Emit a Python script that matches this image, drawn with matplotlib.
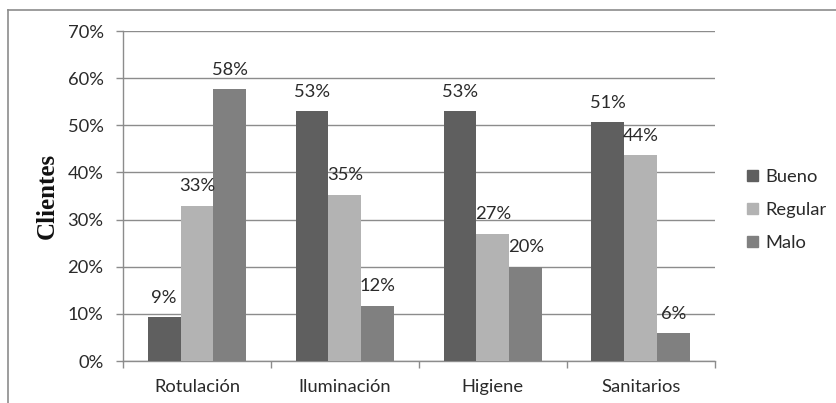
import matplotlib
matplotlib.use("Agg")
import matplotlib.pyplot as plt
from matplotlib.lines import Line2D
from matplotlib.ticker import FuncFormatter, FixedLocator
import numpy as np

categories = ["Rotulación", "Iluminación", "Higiene", "Sanitarios"]
series_names = ["Bueno", "Regular", "Malo"]
bueno = [9.3, 53.0, 53.0, 50.6]
regular = [32.9, 35.3, 27.0, 43.6]
malo = [57.7, 11.7, 20.0, 5.9]
series_values = [bueno, regular, malo]
series_colors = ["#5f5f5f", "#b3b3b3", "#808080"]
yticks = [0, 10, 20, 30, 40, 50, 60, 70]

plt.rcParams["font.family"] = ["Lato", "DejaVu Sans"]
FS = 13.2

fig = plt.figure(figsize=(8.37, 4.03), dpi=100)
ax = fig.add_axes([123 / 837, 42 / 403, (714.7 - 123) / 837, (361 - 31) / 403])

x = np.arange(len(categories))
width = 0.222
for i, (name, vals, col) in enumerate(zip(series_names, series_values, series_colors)):
    pos = x + (i - 1) * width
    bars = ax.bar(pos, vals, width=width, color=col, label=name, zorder=3)
    for b, v in zip(bars, vals):
        ax.annotate(f"{v:.0f}%", (b.get_x() + b.get_width() / 2, v),
                    xytext=(0, 14), textcoords="offset points",
                    ha="center", va="center", fontsize=FS, color="#2a2a2a",
                    zorder=4)

ax.set_xlim(-0.5, len(categories) - 0.5)
ax.set_ylim(0, 70)
ax.set_yticks(yticks)
ax.yaxis.set_major_formatter(FuncFormatter(lambda v, p: f"{v:.0f}%"))
ax.yaxis.grid(True, color="#8c8c8c", linewidth=1, zorder=0)
ax.set_axisbelow(True)

ax.set_xticks(x)
ax.set_xticklabels(categories)
ax.xaxis.set_minor_locator(FixedLocator(np.arange(-0.5, len(categories), 1.0)))
ax.tick_params(axis="x", which="major", length=0, pad=13, labelsize=FS, labelcolor="#2a2a2a")
ax.tick_params(axis="x", which="minor", length=5, color="#8c8c8c", width=1)
ax.tick_params(axis="y", length=5, color="#8c8c8c", width=1, pad=9, labelsize=FS, labelcolor="#2a2a2a")

for s in ["top", "right"]:
    ax.spines[s].set_visible(False)
for s in ["left", "bottom"]:
    ax.spines[s].set_color("#8c8c8c")
    ax.spines[s].set_linewidth(1)

fig.text(47 / 837, 1 - 196 / 403, "Clientes", rotation=90, ha="center", va="center",
         fontsize=18, fontweight="bold", family="Liberation Serif", color="#111111")

handles = [plt.Rectangle((0, 0), 1, 1, color=c) for c in series_colors]
fig.legend(handles, series_names, loc="center left", bbox_to_anchor=(731 / 837, 1 - 210 / 403),
           frameon=False, fontsize=FS, handlelength=0.55, handleheight=0.55,
           handletextpad=0.45, labelspacing=0.95, labelcolor="#2a2a2a")

# outer chart border
fig.add_artist(Line2D([8 / 837, 1], [1 - 10 / 403, 1 - 10 / 403], color="#8c8c8c", lw=1.2))
fig.add_artist(Line2D([8 / 837, 8 / 837], [0, 1 - 10 / 403], color="#8c8c8c", lw=1.2))

fig.savefig("out.png", dpi=100)
